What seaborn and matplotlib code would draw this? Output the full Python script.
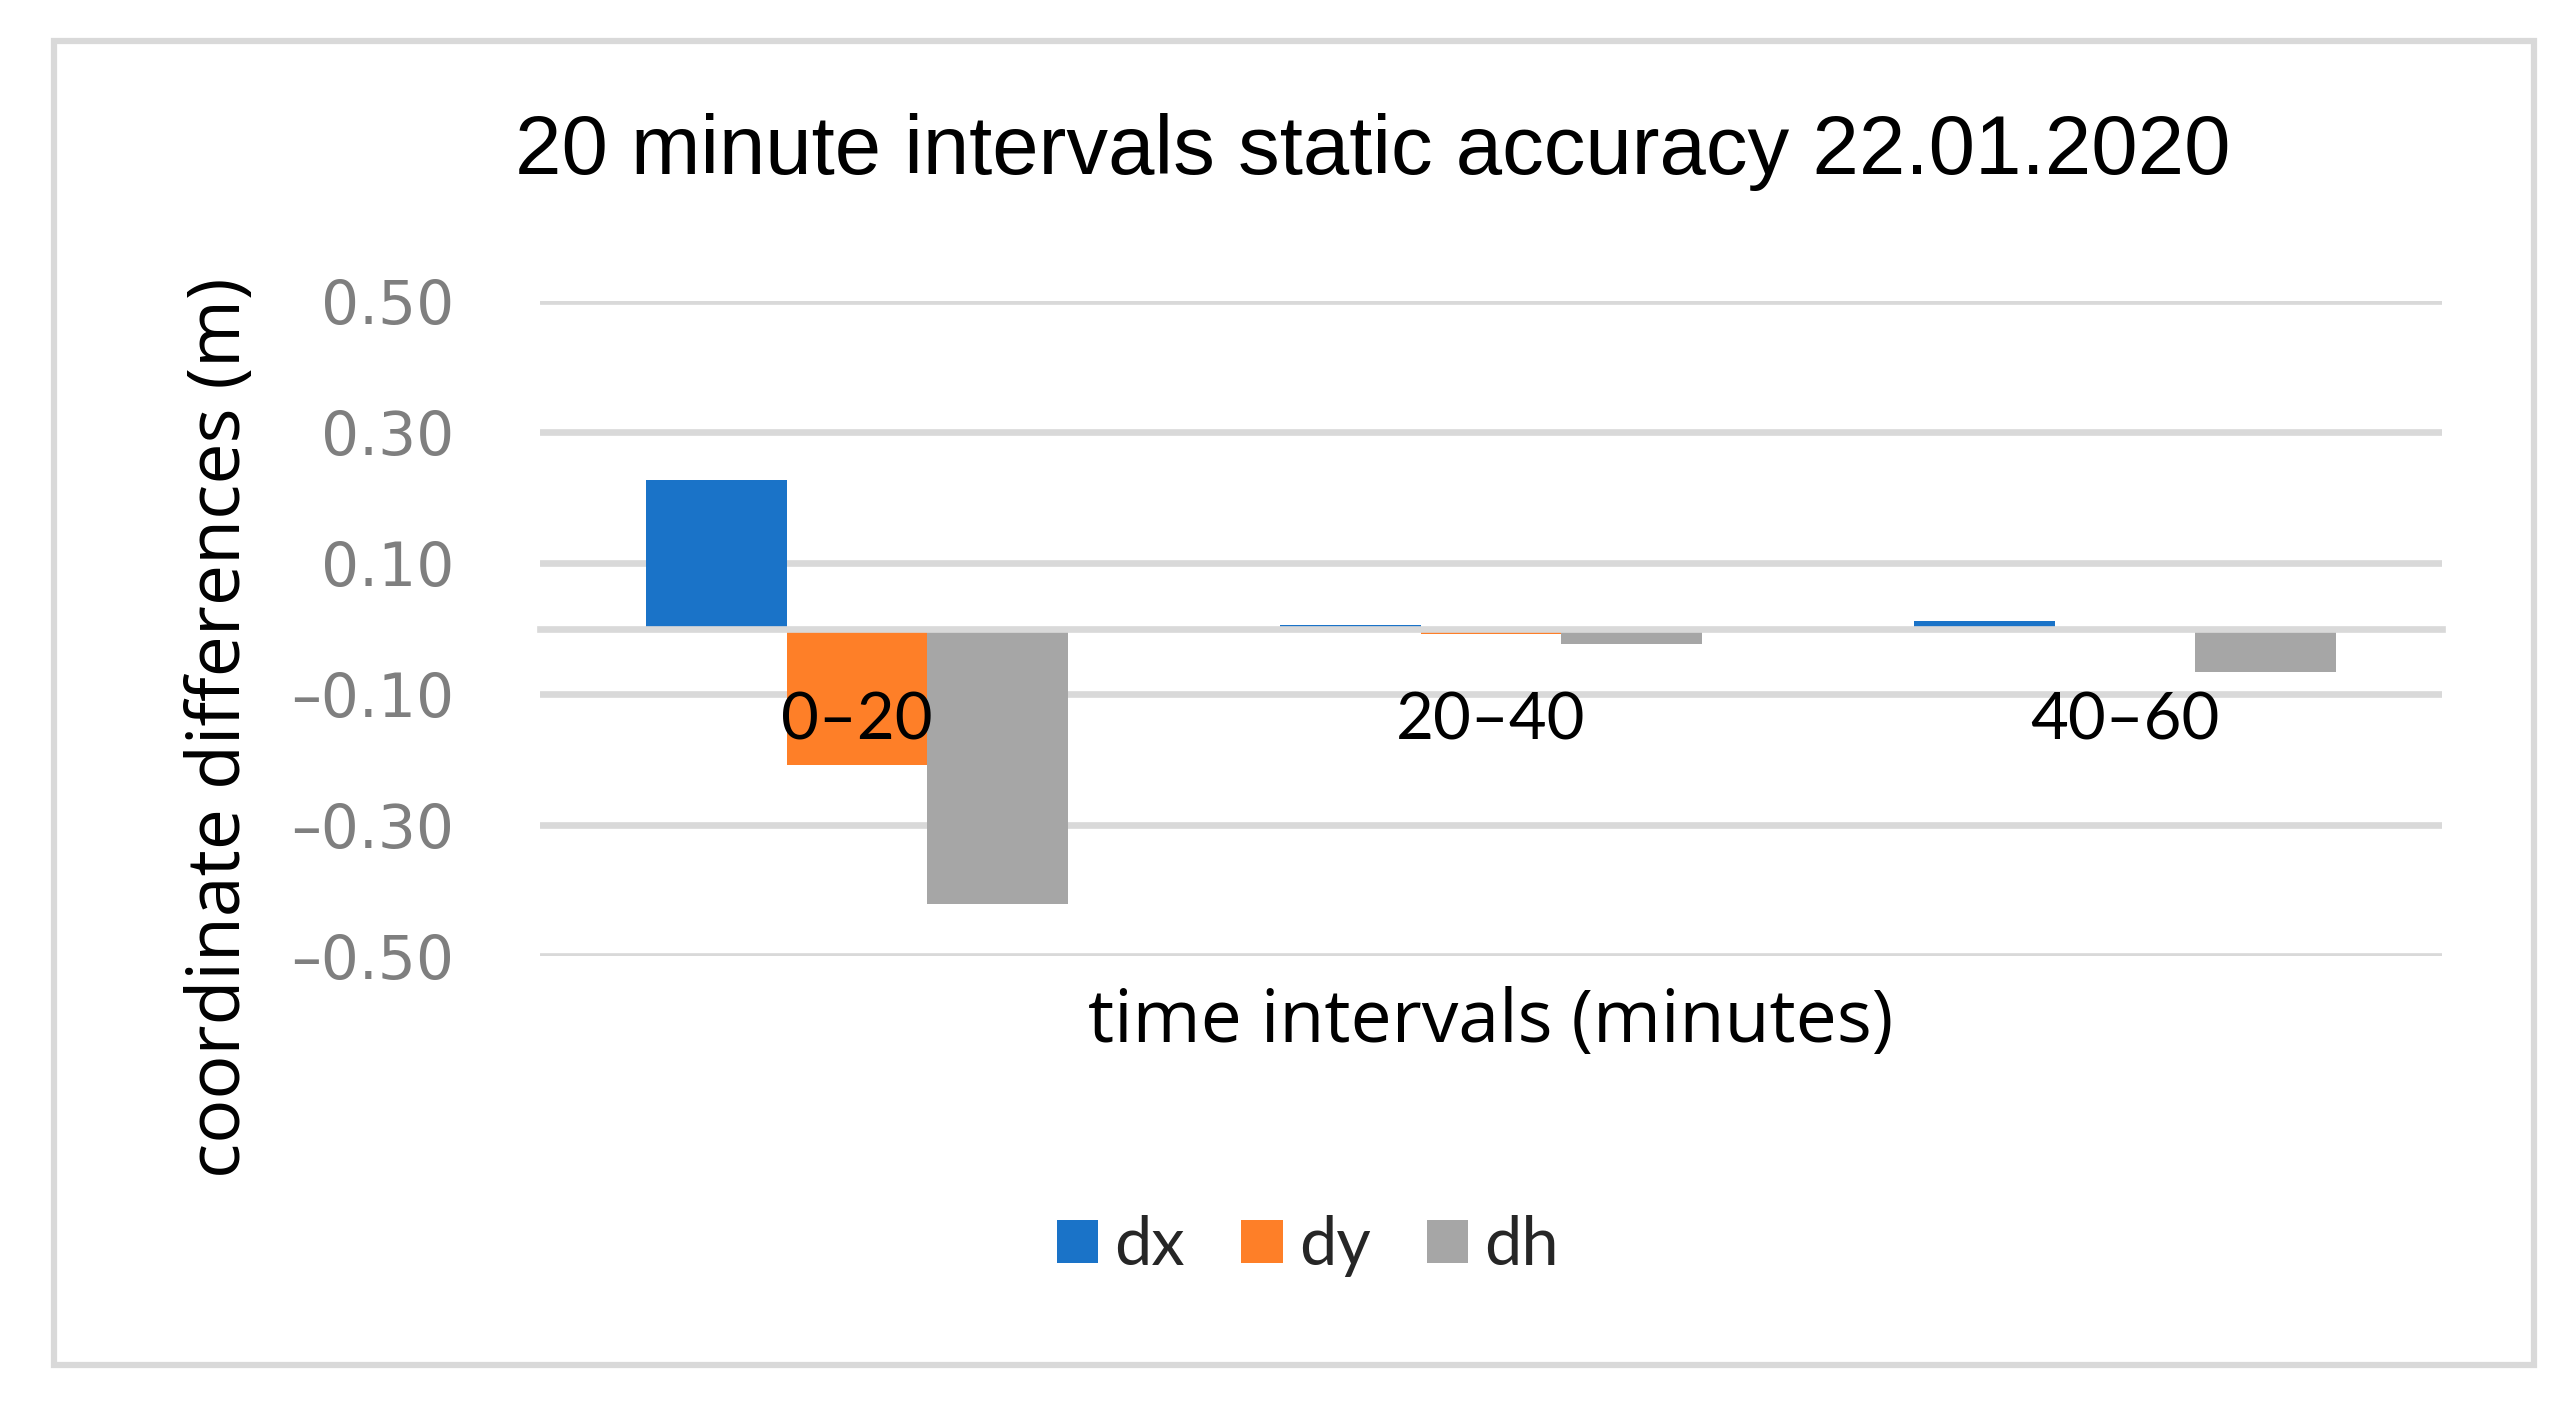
import numpy as np
import pandas as pd
import matplotlib
matplotlib.use("Agg")
import matplotlib.pyplot as plt
import seaborn as sns
from matplotlib.patches import Rectangle
from matplotlib.ticker import FixedLocator, FixedFormatter

# ---- data ----
categories = ["0–20", "20–40", "40–60"]
series = ["dx", "dy", "dh"]
dx = [0.226, 0.006, 0.011]
dy = [-0.208, -0.008, -0.002]
dh = [-0.420, -0.023, -0.066]
ytick_values = [-0.5, -0.3, -0.1, 0.1, 0.3, 0.5]
ytick_labels = ["–0.50", "–0.30", "–0.10", "0.10", "0.30", "0.50"]
colors = ["#1a73c8", "#fe7f28", "#a6a6a6"]

title = "20 minute intervals static accuracy 22.01.2020"
xlabel = "time intervals (minutes)"
ylabel = "coordinate differences (m)"

rows = []
for name, vals in zip(series, [dx, dy, dh]):
    for c, v in zip(categories, vals):
        rows.append({"interval": c, "series": name, "value": v})
df = pd.DataFrame(rows)

sns.set_theme(style="white")
plt.rcParams["font.family"] = ["Lato", "DejaVu Sans"]

W, H, DPI = 2566, 1403, 100
fig = plt.figure(figsize=(W / DPI, H / DPI), dpi=DPI)
fig.patch.set_facecolor("white")

ax = fig.add_axes([540 / W, 1 - 956 / H, (2442 - 540) / W, (956 - 301) / H])

sns.barplot(data=df, x="interval", y="value", hue="series", order=categories,
            hue_order=series, palette=colors, saturation=1, width=2 / 3,
            edgecolor="none", linewidth=0, ax=ax, legend=True)

ax.set_xlim(-0.5, 2.5)
ax.set_ylim(-0.5, 0.5)

# y axis
ax.yaxis.set_major_locator(FixedLocator(ytick_values))
ax.yaxis.set_major_formatter(FixedFormatter(ytick_labels))
for lab in ax.get_yticklabels():
    lab.set_family("DejaVu Sans")
    lab.set_fontsize(43)
    lab.set_color("#7f7f7f")
ax.tick_params(axis="y", length=0, pad=62)

# gridlines
ax.set_axisbelow(True)
ax.yaxis.grid(True, color="#d9d9d9", linewidth=4.8)
ax.xaxis.grid(False)
ax.xaxis.set_zorder(5)

# spines
for s in ["top", "right", "left"]:
    ax.spines[s].set_visible(False)
ax.spines["bottom"].set_position(("data", 0))
ax.spines["bottom"].set_color("#d9d9d9")
ax.spines["bottom"].set_linewidth(4.8)
ax.spines["bottom"].set_zorder(3)

ax.tick_params(axis="x", length=0, pad=45, labelsize=47, labelcolor="black")
ax.set_xlabel("")
ax.set_ylabel("")
ax.set_facecolor("white")

# legend
handles, labels = ax.get_legend_handles_labels()
ax.get_legend().remove()
fig.legend(handles, labels, loc="center", bbox_to_anchor=(1308 / W, 1 - 1246 / H),
           ncol=3, frameon=False, fontsize=48, handlelength=0.62, handleheight=0.62,
           handletextpad=0.24, columnspacing=0.85, borderpad=0)

# titles and axis labels
fig.text(1373 / W, 1 - 152 / H, title, ha="center", va="center",
         fontsize=60, family="Liberation Sans", color="black")
fig.text(1491 / W, 1 - 1023 / H, xlabel, ha="center", va="center",
         fontsize=52.8, family=["Open Sans", "DejaVu Sans"], color="black")
fig.text(221 / W, 1 - 728 / H, ylabel, ha="center", va="center",
         rotation=90, fontsize=52.8, family=["Open Sans", "DejaVu Sans"], color="black")

# outer border
fig.patches.append(Rectangle((54 / W, 1 - 1365 / H), (2534 - 54) / W, (1365 - 41) / H,
                             transform=fig.transFigure, fill=False,
                             edgecolor="#d9d9d9", linewidth=4.5, zorder=0))

fig.savefig("out.png", dpi=DPI, facecolor="white")
